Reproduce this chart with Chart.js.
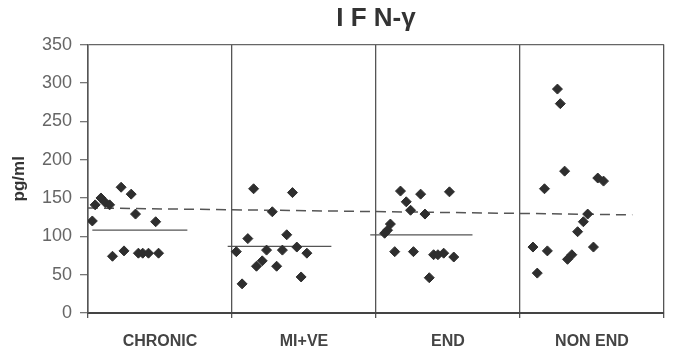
<!DOCTYPE html>
<html>
<head>
<meta charset="utf-8">
<script src="https://cdn.jsdelivr.net/npm/chart.js@4"></script>
<style>
  html, body { margin: 0; padding: 0; background: #fff; }
  #wrap { width: 678px; height: 358px; }
</style>
</head>
<body>
<div id="wrap"><canvas id="ifn-chart"></canvas></div>
<script>
// group names, one panel each
var groups = ['CHRONIC', 'MI+VE', 'END', 'NON END'];

// points: x = position inside the panels (0..4), y = pg/ml
var chronicX = [0.03, 0.05, 0.09, 0.12, 0.15, 0.23, 0.30, 0.33, 0.47, 0.17, 0.25, 0.35, 0.38, 0.42, 0.49];
var chronicY = [120, 141, 150, 144, 141, 164, 155, 129, 119, 74, 81, 78, 78, 78, 78];

var miveX = [1.15, 1.42, 1.28, 1.11, 1.38, 1.03, 1.24, 1.35, 1.45, 1.52, 1.21, 1.17, 1.31, 1.48, 1.07];
var miveY = [162, 157, 132, 97, 102, 80, 82, 82, 86, 78, 68, 61, 61, 47, 38];

var endX = [2.17, 2.31, 2.51, 2.21, 2.24, 2.34, 2.10, 2.08, 2.06, 2.13, 2.26, 2.40, 2.43, 2.47, 2.54, 2.37];
var endY = [159, 155, 158, 145, 134, 129, 116, 108, 104, 80, 80, 76, 76, 78, 73, 46];

var nonEndX = [3.26, 3.28, 3.31, 3.17, 3.54, 3.58, 3.47, 3.44, 3.40, 3.09, 3.19, 3.51, 3.36, 3.33, 3.12];
var nonEndY = [292, 273, 185, 162, 176, 172, 129, 119, 106, 86, 81, 86, 76, 70, 52];

// group means (solid lines) and overall reference (dashed line)
var meanStart = [0.03, 0.97, 1.96];
var meanEnd = [0.69, 1.69, 2.67];
var meanValue = [108, 87, 102];
var refX = [0, 3.78];
var refY = [137, 128];

var yTicks = [0, 50, 100, 150, 200, 250, 300, 350];

function pts(xs, ys) {
    return xs.map(function (x, i) { return { x: x, y: ys[i] }; });
}

var dots = pts(chronicX, chronicY)
    .concat(pts(miveX, miveY))
    .concat(pts(endX, endY))
    .concat(pts(nonEndX, nonEndY));

var datasets = [{
    label: 'IFN-γ',
    data: dots,
    pointStyle: 'rectRot',
    pointRadius: 5,
    backgroundColor: '#2e2e2e',
    borderColor: '#2e2e2e',
    showLine: false
}];

meanValue.forEach(function (v, i) {
    datasets.push({
        label: 'mean ' + groups[i],
        data: [{ x: meanStart[i], y: v }, { x: meanEnd[i], y: v }],
        showLine: true,
        borderColor: '#555',
        borderWidth: 1.3,
        pointRadius: 0
    });
});

datasets.push({
    label: 'reference',
    data: pts(refX, refY),
    showLine: true,
    borderColor: '#555',
    borderWidth: 1.5,
    borderDash: [10, 6],
    pointRadius: 0
});

var ctx = document.getElementById('ifn-chart');

var myChart = new Chart(ctx, {
    type: 'scatter',
    data: { datasets: datasets },
    options: {
        responsive: true,
        maintainAspectRatio: false,
        animation: false,
        layout: { padding: { left: 0, right: 12, top: 0, bottom: 0 } },
        plugins: {
            legend: { display: false },
            tooltip: { enabled: false },
            title: {
                display: true,
                text: 'I F N-γ',
                fullSize: false,
                color: '#333',
                font: { family: 'Liberation Sans', size: 26, weight: 'bold', lineHeight: 1.1 },
                padding: { top: 5, bottom: 11 }
            }
        },
        scales: {
            x: {
                type: 'linear',
                min: 0,
                max: 4,
                afterBuildTicks: function (scale) {
                    var t = [];
                    for (var v = 0; v <= 4; v += 0.5) t.push({ value: v });
                    scale.ticks = t;
                },
                afterFit: function (scale) { scale.height = 45; },
                ticks: {
                    autoSkip: false,
                    maxRotation: 0,
                    padding: 14,
                    color: '#444',
                    font: { family: 'Liberation Sans', size: 16, weight: 'bold' },
                    callback: function (v) {
                        var i = v - 0.5;
                        return Number.isInteger(i) ? groups[i] : '';
                    }
                },
                grid: {
                    color: function (c) {
                        return Number.isInteger(c.tick.value) ? '#555' : 'rgba(0,0,0,0)';
                    },
                    tickColor: function (c) {
                        return Number.isInteger(c.tick.value) ? '#555' : 'rgba(0,0,0,0)';
                    },
                    tickLength: 5,
                    lineWidth: 1.3
                },
                border: { color: '#444', width: 2 }
            },
            y: {
                min: 0,
                max: 350,
                afterBuildTicks: function (scale) {
                    scale.ticks = yTicks.map(function (v) { return { value: v }; });
                },
                afterFit: function (scale) { scale.width = 88; },
                title: {
                    display: true,
                    text: 'pg/ml',
                    color: '#333',
                    font: { family: 'Liberation Sans', size: 17, weight: 'bold' },
                    padding: { top: 9, bottom: 0 }
                },
                ticks: {
                    padding: 8,
                    color: '#666',
                    font: { family: 'Liberation Sans', size: 18 }
                },
                grid: {
                    color: function (c) {
                        return c.tick.value === 350 ? '#666' : 'rgba(0,0,0,0)';
                    },
                    tickColor: '#777',
                    tickLength: 8,
                    lineWidth: 1.3
                },
                border: { color: '#555', width: 1.5 }
            }
        }
    }
});
</script>
</body>
</html>
